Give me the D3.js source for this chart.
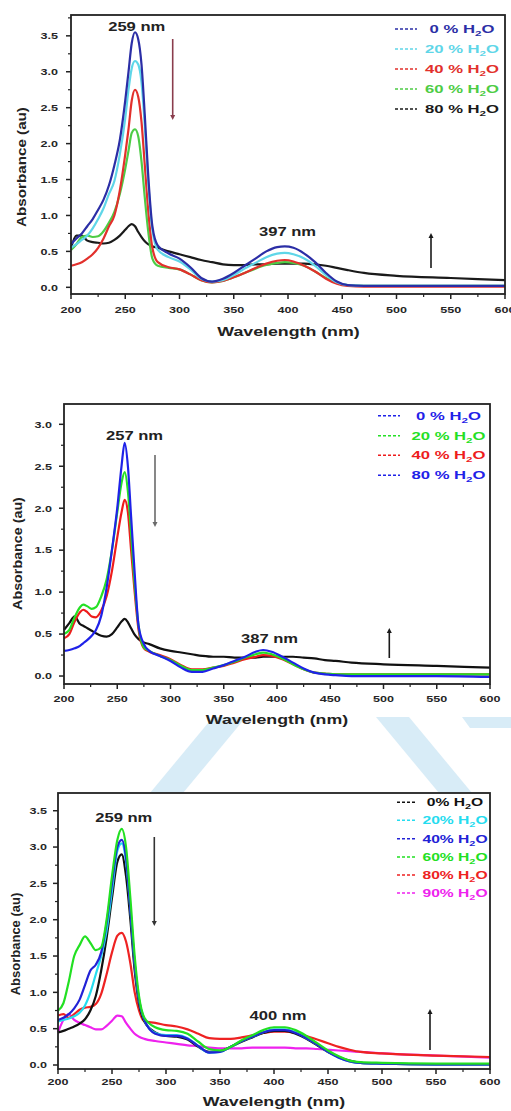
<!DOCTYPE html>
<html><head><meta charset="utf-8">
<script src="https://cdn.jsdelivr.net/npm/d3@7"></script>
<style>html,body{margin:0;padding:0;background:#fff;}svg{display:block;}</style>
</head><body>
<svg id="c" width="511" height="1111"></svg>
<script>
// ---------- Panel 1 data ----------
const wl1 = [200,205,210,215,220,225,230,235,240,245,250,253,256,259,262,265,268,271,275,280,290,300,310,320,330,340,350,360,370,380,390,397,405,415,425,435,445,455,470,500,550,600];
const p1_h0  = [0.60,0.68,0.75,0.85,0.95,1.08,1.22,1.42,1.70,2.05,2.60,3.00,3.40,3.55,3.45,3.10,2.40,1.60,0.85,0.58,0.47,0.40,0.28,0.13,0.08,0.12,0.20,0.30,0.40,0.50,0.56,0.57,0.55,0.47,0.35,0.20,0.08,0.03,0.02,0.02,0.02,0.02];
const p1_h20 = [0.55,0.60,0.66,0.72,0.82,0.95,1.10,1.30,1.48,1.85,2.35,2.75,3.05,3.15,3.10,2.85,2.25,1.50,0.80,0.52,0.42,0.36,0.25,0.12,0.08,0.10,0.17,0.26,0.34,0.42,0.47,0.48,0.46,0.40,0.30,0.17,0.07,0.03,0.02,0.02,0.02,0.02];
const p1_h40 = [0.30,0.32,0.35,0.40,0.46,0.55,0.68,0.85,1.00,1.35,1.85,2.20,2.60,2.75,2.65,2.30,1.70,1.10,0.55,0.35,0.28,0.25,0.18,0.10,0.07,0.09,0.14,0.20,0.27,0.33,0.37,0.38,0.36,0.30,0.22,0.12,0.05,0.02,0.01,0.01,0.01,0.01];
const p1_h60 = [0.52,0.60,0.70,0.72,0.70,0.71,0.78,0.90,1.05,1.30,1.65,1.90,2.15,2.20,2.10,1.75,1.25,0.80,0.40,0.30,0.27,0.25,0.18,0.10,0.07,0.09,0.14,0.20,0.26,0.31,0.34,0.35,0.34,0.30,0.22,0.13,0.06,0.03,0.02,0.02,0.02,0.02];
const p1_h80 = [0.55,0.72,0.72,0.65,0.63,0.62,0.61,0.62,0.66,0.72,0.80,0.85,0.88,0.85,0.77,0.70,0.64,0.60,0.57,0.55,0.50,0.46,0.42,0.38,0.35,0.32,0.31,0.31,0.32,0.32,0.33,0.33,0.33,0.33,0.32,0.30,0.27,0.24,0.20,0.16,0.13,0.10];
const legend1 = ["0 % ","20 % ","40 % ","60 % ","80 % "];
const colors1 = ["#2b2ea6","#5fd6e8","#e2302c","#4dcc45","#1a1a1a"];

// ---------- Panel 2 data ----------
const wl2 = [200,205,210,215,218,222,226,230,235,240,245,250,254,257,260,263,266,270,275,280,290,300,310,320,330,340,350,360,370,380,387,395,405,415,425,435,445,455,470,500,550,600];
const p2_h0  = [0.30,0.31,0.33,0.36,0.39,0.43,0.48,0.55,0.72,1.05,1.50,2.00,2.50,2.78,2.50,1.90,1.30,0.60,0.38,0.30,0.24,0.18,0.10,0.05,0.05,0.09,0.13,0.18,0.23,0.29,0.31,0.29,0.23,0.16,0.09,0.04,0.02,0.01,0.00,0.00,0.00,-0.01];
const p2_h20 = [0.50,0.55,0.70,0.82,0.85,0.83,0.80,0.82,0.95,1.15,1.50,1.95,2.30,2.43,2.20,1.70,1.15,0.60,0.34,0.30,0.24,0.19,0.12,0.07,0.07,0.10,0.13,0.17,0.22,0.26,0.28,0.26,0.21,0.14,0.08,0.04,0.03,0.02,0.02,0.02,0.02,0.02];
const p2_h40 = [0.45,0.50,0.65,0.76,0.79,0.76,0.71,0.70,0.78,0.95,1.25,1.65,1.95,2.10,1.95,1.50,1.05,0.55,0.33,0.29,0.25,0.20,0.13,0.08,0.08,0.10,0.12,0.16,0.20,0.23,0.25,0.24,0.20,0.14,0.08,0.04,0.03,0.02,0.02,0.02,0.02,0.02];
const p2_h80 = [0.55,0.63,0.71,0.62,0.60,0.57,0.54,0.51,0.48,0.47,0.50,0.58,0.65,0.68,0.64,0.57,0.50,0.44,0.40,0.38,0.33,0.30,0.28,0.26,0.24,0.23,0.23,0.22,0.22,0.22,0.23,0.23,0.23,0.23,0.22,0.21,0.19,0.18,0.16,0.14,0.12,0.10];
const legend2 = ["0 % ","20 % ","40 % ","80 % "];
const lineColors2 = ["#1f22e8","#25e025","#ee1c1c","#111111"];
const textColors2 = ["#1f22e8","#25e025","#ee1c1c","#1f22e8"];

// ---------- Panel 3 data ----------
const wl3 = [200,205,210,215,220,225,230,235,240,245,250,255,259,263,267,271,275,280,290,300,310,320,330,340,350,360,370,380,390,400,410,420,430,440,450,460,470,480,500,550,600];
const p3_h0  = [0.45,0.47,0.50,0.53,0.57,0.63,0.75,0.95,1.30,1.75,2.30,2.80,2.90,2.60,2.00,1.30,0.85,0.60,0.45,0.40,0.39,0.35,0.25,0.18,0.19,0.25,0.32,0.38,0.44,0.47,0.47,0.43,0.36,0.27,0.18,0.11,0.06,0.03,0.02,0.01,0.01];
const p3_h20 = [0.60,0.62,0.64,0.67,0.72,0.82,1.00,1.25,1.50,1.85,2.40,2.95,3.05,2.80,2.15,1.40,0.90,0.62,0.44,0.41,0.41,0.37,0.26,0.17,0.18,0.25,0.33,0.39,0.45,0.49,0.49,0.45,0.37,0.28,0.18,0.10,0.05,0.03,0.02,0.01,0.01];
const p3_h40 = [0.62,0.65,0.70,0.78,0.90,1.10,1.30,1.38,1.55,1.95,2.50,3.00,3.10,2.85,2.15,1.40,0.90,0.62,0.43,0.40,0.40,0.36,0.26,0.17,0.18,0.25,0.33,0.39,0.45,0.48,0.48,0.44,0.37,0.28,0.18,0.10,0.05,0.03,0.02,0.01,0.01];
const p3_h60 = [0.75,0.85,1.15,1.50,1.65,1.77,1.68,1.58,1.62,2.00,2.60,3.10,3.25,3.00,2.30,1.50,0.95,0.65,0.52,0.48,0.47,0.43,0.32,0.22,0.20,0.25,0.34,0.41,0.48,0.52,0.52,0.48,0.40,0.30,0.20,0.12,0.06,0.04,0.03,0.02,0.02];
const p3_h80 = [0.68,0.70,0.65,0.70,0.76,0.79,0.80,0.84,0.98,1.25,1.55,1.78,1.82,1.70,1.40,1.00,0.75,0.60,0.58,0.55,0.53,0.49,0.43,0.37,0.36,0.36,0.38,0.41,0.44,0.46,0.46,0.44,0.40,0.35,0.30,0.25,0.21,0.18,0.16,0.13,0.11];
const p3_h90 = [0.45,0.62,0.70,0.62,0.58,0.55,0.52,0.49,0.49,0.54,0.61,0.68,0.67,0.58,0.50,0.43,0.39,0.36,0.33,0.31,0.29,0.27,0.26,0.24,0.23,0.23,0.23,0.24,0.24,0.24,0.24,0.23,0.23,0.22,0.21,0.20,0.19,0.18,0.16,0.13,0.10];
const legend3 = ["0% ","20% ","40% ","60% ","80% ","90% "];
const colors3 = ["#111111","#25dcef","#2222d6","#22e022","#ee2222","#ee22ee"];

// ---------- Axis ticks ----------
const xTicks = [200,250,300,350,400,450,500,550,600];
const yTicks35 = [0,0.5,1.0,1.5,2.0,2.5,3.0,3.5];
const yTicks30 = [0,0.5,1.0,1.5,2.0,2.5,3.0];
const peaks1 = ["259 nm","397 nm"], peaks2 = ["257 nm","387 nm"], peaks3 = ["259 nm","400 nm"];

const svg = d3.select("#c");
const FONT = "'Liberation Sans', Arial, sans-serif";

// watermark fragments
const wm = [
  [[150,793],[183,793],[246,717],[213,717]],
  [[376,717],[409,717],[472,793],[439,793]],
  [[462,717],[511,717],[511,728],[470,728]]
];
svg.selectAll("polygon.wm").data(wm).join("polygon").attr("class","wm")
  .attr("points", d=>d.map(p=>p.join(",")).join(" ")).attr("fill","#d8ecf7");

function txt(g, s, x, y, o){
  const t = g.append("text").attr("font-family",FONT).attr("font-weight","bold")
    .attr("font-size",o.size).attr("fill",o.fill||"#222").attr("text-anchor",o.anchor||"middle")
    .attr("transform",`translate(${x},${y})${o.rot?" rotate(-90)":""} scale(${o.sx||1},1)`);
  if(o.base) t.attr("dominant-baseline",o.base);
  t.text(s);
  return t;
}

function panel(cfg){
  const g = svg.append("g");
  const x = d3.scaleLinear().domain([200,600]).range(cfg.xr);
  const y = d3.scaleLinear().domain(cfg.yd).range(cfg.yr);
  const line = d3.line().curve(d3.curveMonotoneX).x(d=>x(d[0])).y(d=>y(d[1]));
  // curves
  cfg.order.forEach(i=>{
    const pts = cfg.wl.map((w,k)=>[w,cfg.series[i][k]]);
    g.append("path").attr("d",line(pts)).attr("fill","none")
      .attr("stroke",cfg.lineColors[i]).attr("stroke-width",2.2).attr("stroke-linejoin","round");
  });
  // frame
  const [x0,x1] = cfg.xr, [yb,yt] = cfg.yr;
  g.append("rect").attr("x",x0).attr("y",yt).attr("width",x1-x0).attr("height",yb-yt)
    .attr("fill","none").attr("stroke","#222").attr("stroke-width",1.8);
  // x ticks
  const xminor = d3.range(225,600,50);
  g.selectAll(null).data(xTicks).join("line").attr("x1",d=>x(d)).attr("x2",d=>x(d))
    .attr("y1",yb).attr("y2",yb+5).attr("stroke","#222").attr("stroke-width",1.5);
  g.selectAll(null).data(xminor).join("line").attr("x1",d=>x(d)).attr("x2",d=>x(d))
    .attr("y1",yb).attr("y2",yb+3).attr("stroke","#222").attr("stroke-width",1.2);
  xTicks.forEach(v=>txt(g,String(v),x(v),yb+cfg.xlab,{size:9,sx:1.4,fill:"#262626"}));
  // y ticks
  const yminor = cfg.yTicks.map(v=>v+0.25).filter(v=>y(v)>yt+2);
  g.selectAll(null).data(cfg.yTicks).join("line").attr("x1",x0-5).attr("x2",x0)
    .attr("y1",d=>y(d)).attr("y2",d=>y(d)).attr("stroke","#222").attr("stroke-width",1.5);
  g.selectAll(null).data(yminor).join("line").attr("x1",x0-3).attr("x2",x0)
    .attr("y1",d=>y(d)).attr("y2",d=>y(d)).attr("stroke","#222").attr("stroke-width",1.2);
  cfg.yTicks.forEach(v=>txt(g,d3.format(".1f")(v),x0-cfg.ylab,y(v)+3.3,{size:9,sx:1.4,anchor:"end",fill:"#262626"}));
  // titles
  txt(g,"Wavelength (nm)",cfg.xt[0],cfg.xt[1],{size:12.5,sx:1.42});
  txt(g,"Absorbance (au)",cfg.yt[0],cfg.yt[1],{size:13,sx:cfg.ytsx,rot:true,base:"central"});
  // peak labels
  cfg.peaks.forEach((p,i)=>txt(g,p,cfg.peakPos[i][0],cfg.peakPos[i][1],{size:12,sx:1.38}));
  // legend
  cfg.labels.forEach((lab,i)=>{
    const ly = cfg.leg.y[i];
    g.append("line").attr("x1",cfg.leg.l0).attr("x2",cfg.leg.l1).attr("y1",ly).attr("y2",ly)
      .attr("stroke",cfg.textColors[i]).attr("stroke-width",1.6).attr("stroke-dasharray","3,2");
    const t = g.append("text").attr("font-family",FONT).attr("font-weight","bold").attr("font-size",11.5)
      .attr("fill",cfg.textColors[i]).attr("text-anchor","middle")
      .attr("transform",`translate(${cfg.leg.tx},${ly+4}) scale(${cfg.leg.sx},1)`);
    t.append("tspan").text(lab+"H");
    t.append("tspan").attr("font-size",8).attr("dy",3).text("2");
    t.append("tspan").attr("dy",-3).text("O");
  });
  // arrows
  cfg.arrows.forEach(a=>{
    const [ax,ya,yb2,col] = a; // from ya to yb2, head at yb2
    const dir = yb2>ya?1:-1;
    g.append("line").attr("x1",ax).attr("x2",ax).attr("y1",ya).attr("y2",yb2-dir*4)
      .attr("stroke",col).attr("stroke-width",1.6);
    g.append("path").attr("d",`M${ax-2.5},${yb2-dir*5}L${ax+2.5},${yb2-dir*5}L${ax},${yb2}Z`).attr("fill",col);
  });
}

panel({wl:wl1, series:[p1_h0,p1_h20,p1_h40,p1_h60,p1_h80], order:[4,3,2,1,0],
  lineColors:colors1, textColors:colors1, labels:legend1,
  xr:[71,505], yr:[294,15], yd:[-0.093,3.79], yTicks:yTicks35, xlab:18.5, ylab:13,
  xt:[288.5,336], yt:[21.5,167], ytsx:1.17, peaks:peaks1, peakPos:[[136.7,30.5],[287.5,236]],
  leg:{y:[29,49,69,89,109], l0:395, l1:417, tx:462, sx:1.45},
  arrows:[[172.7,39,120,"#8a3d4d"],[431,268,233,"#1a1a1a"]]});

panel({wl:wl2, series:[p2_h0,p2_h20,p2_h40,p2_h80], order:[3,2,1,0],
  lineColors:lineColors2, textColors:textColors2, labels:legend2,
  xr:[64,490], yr:[684,404], yd:[-0.095,3.242], yTicks:yTicks30, xlab:17.5, ylab:12,
  xt:[277,724], yt:[18,553.5], ytsx:1.1, peaks:peaks2, peakPos:[[134.5,440],[269.5,643]],
  leg:{y:[415.7,435.7,455.3,475.3], l0:378, l1:400, tx:448.5, sx:1.45},
  arrows:[[155,455,527,"#6a6a6a"],[389.3,658,628,"#1a1a1a"]]});

panel({wl:wl3, series:[p3_h0,p3_h20,p3_h40,p3_h60,p3_h80,p3_h90], order:[5,4,0,1,2,3],
  lineColors:colors3, textColors:colors3, labels:legend3,
  xr:[58,490], yr:[1069,793], yd:[-0.055,3.744], yTicks:yTicks35, xlab:16, ylab:11,
  xt:[274,1106], yt:[15,944], ytsx:1.0, peaks:peaks3, peakPos:[[123.8,822],[278,1020]],
  leg:{y:[802.3,820.3,838.7,857,875,893], l0:397, l1:417, tx:455, sx:1.36},
  arrows:[[154.3,837,926,"#333333"],[430,1050,1009,"#1a1a1a"]]});
</script>
</body></html>
